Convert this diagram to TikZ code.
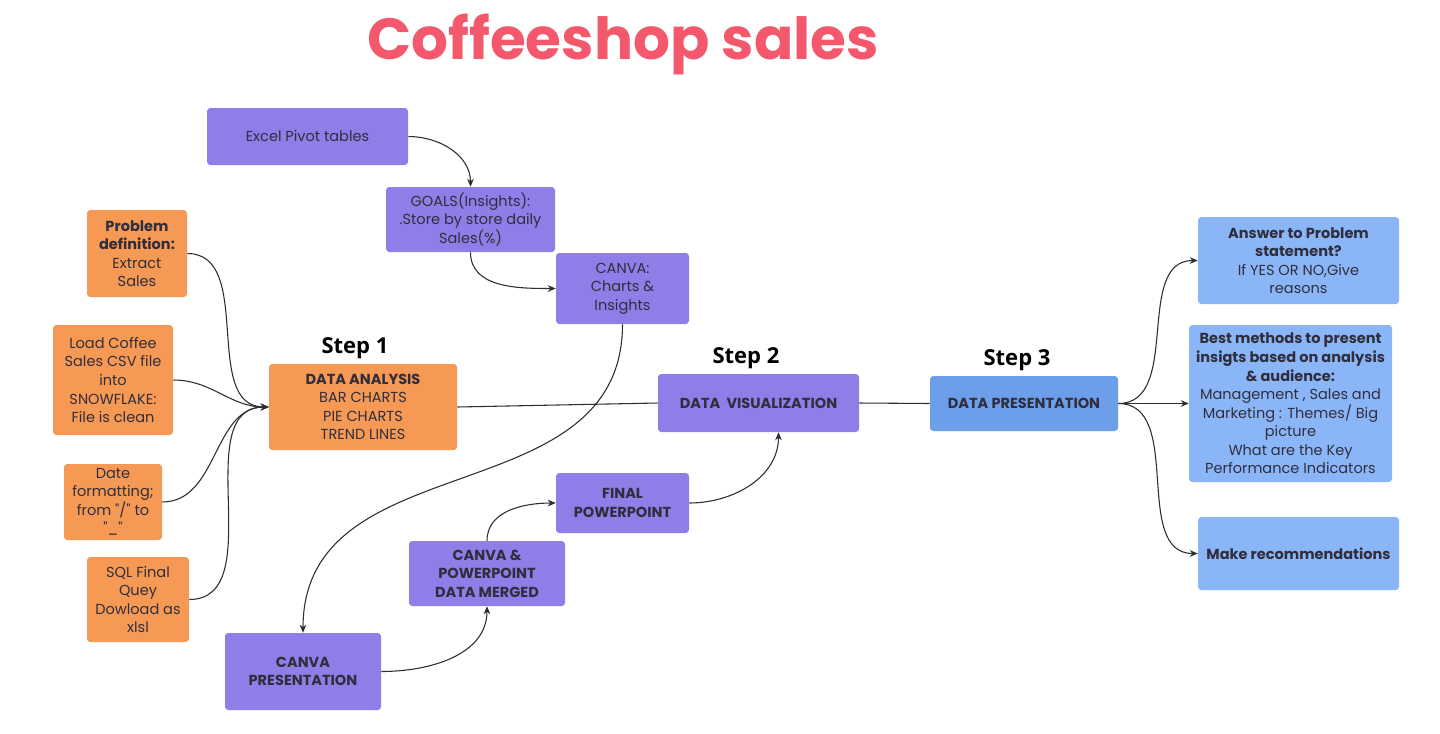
\documentclass[tikz,border=0pt]{standalone}
\usepackage{fontspec}
\setmainfont{Poppins}
\newfontfamily\pop{Poppins}
\newfontfamily\stepfont{Open Sans}
\usetikzlibrary{arrows.meta}
\definecolor{purp}{RGB}{143,125,232}
\definecolor{orng}{RGB}{246,153,84}
\definecolor{dblue}{RGB}{108,158,234}
\definecolor{lblue}{RGB}{138,182,248}
\definecolor{titlec}{RGB}{243,88,108}
\definecolor{txt}{RGB}{48,46,60}
\definecolor{ln}{RGB}{45,45,50}
\tikzset{
  box/.style={rounded corners=2.5pt, inner sep=2pt, align=center, text=txt,
    font=\pop\fontsize{10.9pt}{13.9pt}\selectfont},
  sz/.style 2 args={minimum width=#1*0.75pt, minimum height=#2*0.75pt},
  pbox/.style={box, fill=purp},
  obox/.style={box, fill=orng},
  dbox/.style={box, fill=dblue},
  lbox/.style={box, fill=lblue},
  steplabel/.style={font=\stepfont\bfseries\fontsize{16.5pt}{18pt}\selectfont, text=black},
  conn/.style={draw=ln, line width=0.8pt},
  arr/.style={conn, -{Stealth[length=6pt,width=5pt]}}
}
\begin{document}
\begin{tikzpicture}[x=0.75pt,y=0.75pt]
\useasboundingbox (0,0) rectangle (1440,-733);
\fill[white] (0,0) rectangle (1440,-733);

\node[font=\pop\bfseries\fontsize{43.5pt}{48pt}\selectfont, text=titlec] (title) at (623,-44) {Coffeeshop sales};

% top chain
\node[pbox, sz={201}{57}] (excel) at (307.5,-136.5) {Excel Pivot tables};
\node[pbox, sz={169}{65}] (goals) at (470.5,-219.5) {GOALS(Insights):\\.Store by store daily\\Sales(\%)};
\node[pbox, sz={133}{71}] (canvac) at (622.5,-288.5) {CANVA:\\Charts \&\\Insights};

% left inputs
\node[obox, sz={100}{87}] (prob) at (137,-253.5) {\textbf{Problem}\\\textbf{definition:}\\Extract\\Sales};
\node[obox, sz={120}{110}] (load) at (113,-380) {Load Coffee\\Sales CSV file\\into\\SNOWFLAKE:\\File is clean};
\node[obox, sz={98}{76}] (date) at (113,-502) {Date\\formatting;\\from "/" to\\"\_"};
\node[obox, sz={102}{85}] (sql) at (138,-599.5) {SQL Final\\Quey\\Dowload as\\xlsl};

% steps
\node[steplabel] (s1) at (355,-348) {Step 1};
\node[obox, sz={188}{86}] (analysis) at (363,-407) {\textbf{DATA ANALYSIS}\\BAR CHARTS\\PIE CHARTS\\TREND LINES};
\node[steplabel] (s2) at (746,-358) {Step 2};
\node[pbox, sz={201}{58}] (viz) at (758.5,-403) {\textbf{DATA\ \ VISUALIZATION}};
\node[steplabel] (s3) at (1017,-360) {Step 3};
\node[dbox, sz={188}{55}] (pres) at (1024,-403.5) {\textbf{DATA PRESENTATION}};

% bottom chain
\node[pbox, sz={133}{60}] (final) at (622.5,-503) {\textbf{FINAL}\\\textbf{POWERPOINT}};
\node[pbox, sz={156}{65}] (merged) at (487,-573.5) {\textbf{CANVA \&}\\\textbf{POWERPOINT}\\\textbf{DATA MERGED}};
\node[pbox, sz={156}{77}] (canvap) at (303,-671.5) {\textbf{CANVA}\\\textbf{PRESENTATION}};

% right outputs
\node[lbox, sz={201}{87}] (answer) at (1298.5,-260.5) {\textbf{Answer to Problem}\\\textbf{statement?}\\If YES OR NO,Give\\reasons};
\node[lbox, sz={203}{157}] (best) at (1290.5,-403.5) {\textbf{Best methods to present}\\\textbf{insigts based on analysis}\\\textbf{\& audience:}\\Management , Sales and\\Marketing : Themes/ Big\\picture\\What are the Key\\Performance Indicators};
\node[lbox, sz={201}{73}] (recom) at (1298.5,-553.5) {\textbf{Make recommendations}};

% connectors
\draw[arr] (excel.east) to[out=0,in=90] (goals.north);
\draw[arr] (goals.south) to[out=-90,in=180] (canvac.west);

\draw[arr] (prob.east) to[out=0,in=180] (analysis.west);
\draw[arr] (load.east) to[out=0,in=180] (analysis.west);
\draw[arr] (date.east) to[out=0,in=180] (analysis.west);
\draw[arr] (sql.east) to[out=0,in=180] (analysis.west);

\draw[conn] (analysis.east) -- (viz.west);
\draw[arr] (canvac.south) to[out=-90,in=90,looseness=1.1] (canvap.north);
\draw[arr] (canvap.east) to[out=0,in=-90] (merged.south);
\draw[arr] (merged.north) to[out=90,in=180] (final.west);
\draw[arr] (final.east) to[out=0,in=-90] ([xshift=20*0.75pt]viz.south);
\draw[conn] (viz.east) -- (pres.west);

\draw[arr] (pres.east) to[out=0,in=180] (answer.west);
\draw[arr] (pres.east) -- (best.west);
\draw[arr] (pres.east) to[out=0,in=180] (recom.west);
\end{tikzpicture}
\end{document}
